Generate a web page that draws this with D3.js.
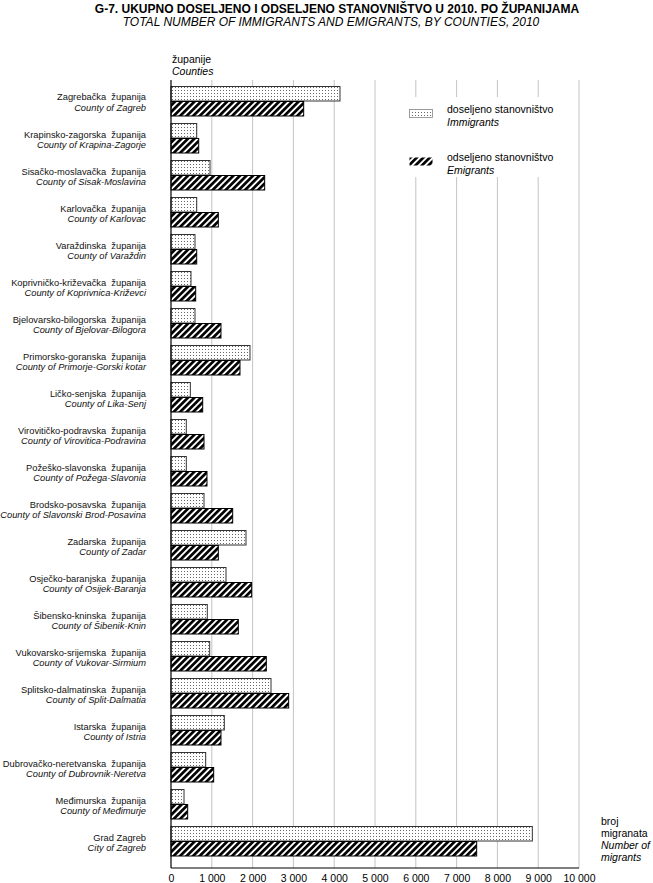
<!DOCTYPE html>
<html>
<head>
<meta charset="utf-8">
<script src="https://cdn.jsdelivr.net/npm/d3@7"></script>
<style>
  html, body { margin: 0; padding: 0; background: #fff; }
  svg { display: block; font-family: "Liberation Sans", Arial, sans-serif; }
</style>
</head>
<body>
<svg id="chart" width="653" height="883"></svg>
<script>
// ---- data ----
const countiesHr = ["Zagrebačka  županija", "Krapinsko-zagorska  županija", "Sisačko-moslavačka  županija",
  "Karlovačka  županija", "Varaždinska  županija", "Koprivničko-križevačka  županija",
  "Bjelovarsko-bilogorska  županija", "Primorsko-goranska  županija", "Ličko-senjska  županija",
  "Virovitičko-podravska  županija", "Požeško-slavonska  županija", "Brodsko-posavska  županija",
  "Zadarska  županija", "Osječko-baranjska  županija", "Šibensko-kninska  županija",
  "Vukovarsko-srijemska  županija", "Splitsko-dalmatinska  županija", "Istarska  županija",
  "Dubrovačko-neretvanska  županija", "Međimurska  županija", "Grad Zagreb"];
const countiesEn = ["County of Zagreb", "County of Krapina-Zagorje", "County of Sisak-Moslavina",
  "County of Karlovac", "County of Varaždin", "County of Koprivnica-Križevci",
  "County of Bjelovar-Bilogora", "County of Primorje-Gorski kotar", "County of Lika-Senj",
  "County of Virovitica-Podravina", "County of Požega-Slavonia", "County of Slavonski Brod-Posavina",
  "County of Zadar", "County of Osijek-Baranja", "County of Šibenik-Knin",
  "County of Vukovar-Sirmium", "County of Split-Dalmatia", "County of Istria",
  "County of Dubrovnik-Neretva", "County of Međimurje", "City of Zagreb"];
const immigrants = [4142, 630, 956, 630, 588, 490, 588, 1936, 474, 375, 375, 809, 1838, 1348, 890, 948, 2451, 1307, 850, 319, 8856];
const emigrants  = [3252, 679, 2296, 1160, 630, 605, 1225, 1691, 777, 809, 882, 1512, 1160, 1977, 1650, 2336, 2884, 1225, 1046, 409, 7492];
const seriesKeys = ["imm", "emi"];
const seriesHr = ["doseljeno stanovništvo", "odseljeno stanovništvo"];
const seriesEn = ["Immigrants", "Emigrants"];
const xTicks = [0, 1000, 2000, 3000, 4000, 5000, 6000, 7000, 8000, 9000, 10000];

// ---- layout ----
const svg = d3.select("#chart");
const pLeft = 171, pRight = 579, pTop = 80, pBottom = 868;

const x = d3.scaleLinear().domain([0, 10000]).range([pLeft, pRight]);
const y = d3.scaleBand().domain(d3.range(countiesHr.length))
  .range([pTop + 2, pBottom]).paddingInner(0.189).paddingOuter(0.216).align(0.25);
const ySub = d3.scaleBand().domain(seriesKeys).range([0, y.bandwidth()]);

// patterns
const defs = svg.append("defs");
const dots = defs.append("pattern").attr("id", "dots").attr("patternUnits", "userSpaceOnUse")
  .attr("width", 3).attr("height", 3);
dots.append("rect").attr("width", 3).attr("height", 3).attr("fill", "#fff");
dots.append("rect").attr("x", 1).attr("y", 1).attr("width", 1).attr("height", 1).attr("fill", "#666");
const hatch = defs.append("pattern").attr("id", "hatch").attr("patternUnits", "userSpaceOnUse")
  .attr("width", 4.6).attr("height", 10).attr("patternTransform", "rotate(45)");
hatch.append("rect").attr("width", 4.6).attr("height", 10).attr("fill", "#fff");
hatch.append("rect").attr("width", 2.7).attr("height", 10).attr("fill", "#000");
const fills = { imm: "url(#dots)", emi: "url(#hatch)" };
const strokes = { imm: "#333", emi: "#000" };

// title
svg.append("text").attr("x", 337).attr("y", 12.5).attr("text-anchor", "middle")
  .attr("font-size", 12).attr("font-weight", "bold")
  .text("G-7. UKUPNO DOSELJENO I ODSELJENO STANOVNIŠTVO U 2010. PO ŽUPANIJAMA");
svg.append("text").attr("x", 331).attr("y", 25.5).attr("text-anchor", "middle")
  .attr("font-size", 12).attr("font-style", "italic")
  .text("TOTAL NUMBER OF IMMIGRANTS AND EMIGRANTS, BY COUNTIES, 2010");

// y axis title
svg.append("text").attr("x", pLeft + 1).attr("y", 63).attr("font-size", 10.5).text("županije");
svg.append("text").attr("x", pLeft + 1).attr("y", 75).attr("font-size", 10.5).attr("font-style", "italic").text("Counties");

// grid
svg.append("g").selectAll("line").data(xTicks.filter(d => d > 0)).join("line")
  .attr("x1", d => x(d)).attr("x2", d => x(d)).attr("y1", pTop).attr("y2", pBottom)
  .attr("stroke", "#c4c4c4").attr("stroke-width", 1);

// legend background
svg.append("rect").attr("x", 398).attr("y", 97).attr("width", 172).attr("height", 80).attr("fill", "#fff");

// bars
const data = countiesHr.map((c, i) => ({ i, imm: immigrants[i], emi: emigrants[i] }));
const groups = svg.append("g").selectAll("g").data(data).join("g")
  .attr("transform", d => `translate(0,${y(d.i)})`);
groups.selectAll("rect").data(d => seriesKeys.map(k => ({ k, v: d[k] }))).join("rect")
  .attr("x", x(0)).attr("y", d => ySub(d.k) + 0.5)
  .attr("width", d => x(d.v) - x(0)).attr("height", ySub.bandwidth() - 0.5)
  .attr("fill", d => fills[d.k]).attr("stroke", d => strokes[d.k]).attr("stroke-width", 1);

// category labels
const lab = svg.append("g").attr("font-size", 9.3).attr("fill", "#111");
data.forEach(d => {
  const cy = y(d.i) + y.bandwidth() / 2;
  lab.append("text").attr("x", 146).attr("y", cy - 0.5).attr("text-anchor", "end")
    .style("white-space", "pre").text(countiesHr[d.i]);
  lab.append("text").attr("x", 146).attr("y", cy + 10).attr("text-anchor", "end")
    .attr("font-style", "italic").text(countiesEn[d.i]);
});

// axes lines
svg.append("line").attr("x1", pLeft).attr("x2", pLeft).attr("y1", pTop).attr("y2", pBottom)
  .attr("stroke", "#000").attr("stroke-width", 1.2);
svg.append("line").attr("x1", pLeft).attr("x2", pRight).attr("y1", pBottom).attr("y2", pBottom)
  .attr("stroke", "#000").attr("stroke-width", 1.2);

// x axis labels
const loc = d3.formatLocale({ decimal: ",", thousands: " ", grouping: [3], currency: ["", ""] });
const xAxis = d3.axisBottom(x).tickValues(xTicks).tickSize(0).tickPadding(7).tickFormat(loc.format(",d"));
const gx = svg.append("g").attr("transform", `translate(0,${pBottom})`).call(xAxis);
gx.select(".domain").remove();
gx.selectAll("text").attr("font-size", 10.5).attr("font-family", "Liberation Sans, Arial, sans-serif").attr("fill", "#000");

// legend
const legY = [109, 157];
seriesKeys.forEach((k, i) => {
  svg.append("rect").attr("x", 409.5).attr("y", legY[i] + 0.5).attr("width", 23).attr("height", 8)
    .attr("fill", fills[k]).attr("stroke", k === "imm" ? "#888" : "none").attr("stroke-width", 0.8);
  svg.append("text").attr("x", 447).attr("y", legY[i] + 4).attr("font-size", 10.5).text(seriesHr[i]);
  svg.append("text").attr("x", 447).attr("y", legY[i] + 16.5).attr("font-size", 10.5)
    .attr("font-style", "italic").text(seriesEn[i]);
});

// x axis title
const xt = ["broj", "migranata", "Number of", "migrants"];
xt.forEach((t, i) => {
  svg.append("text").attr("x", 601).attr("y", 825 + i * 12).attr("font-size", 10.5)
    .attr("font-style", i >= 2 ? "italic" : "normal").text(t);
});
</script>
</body>
</html>
